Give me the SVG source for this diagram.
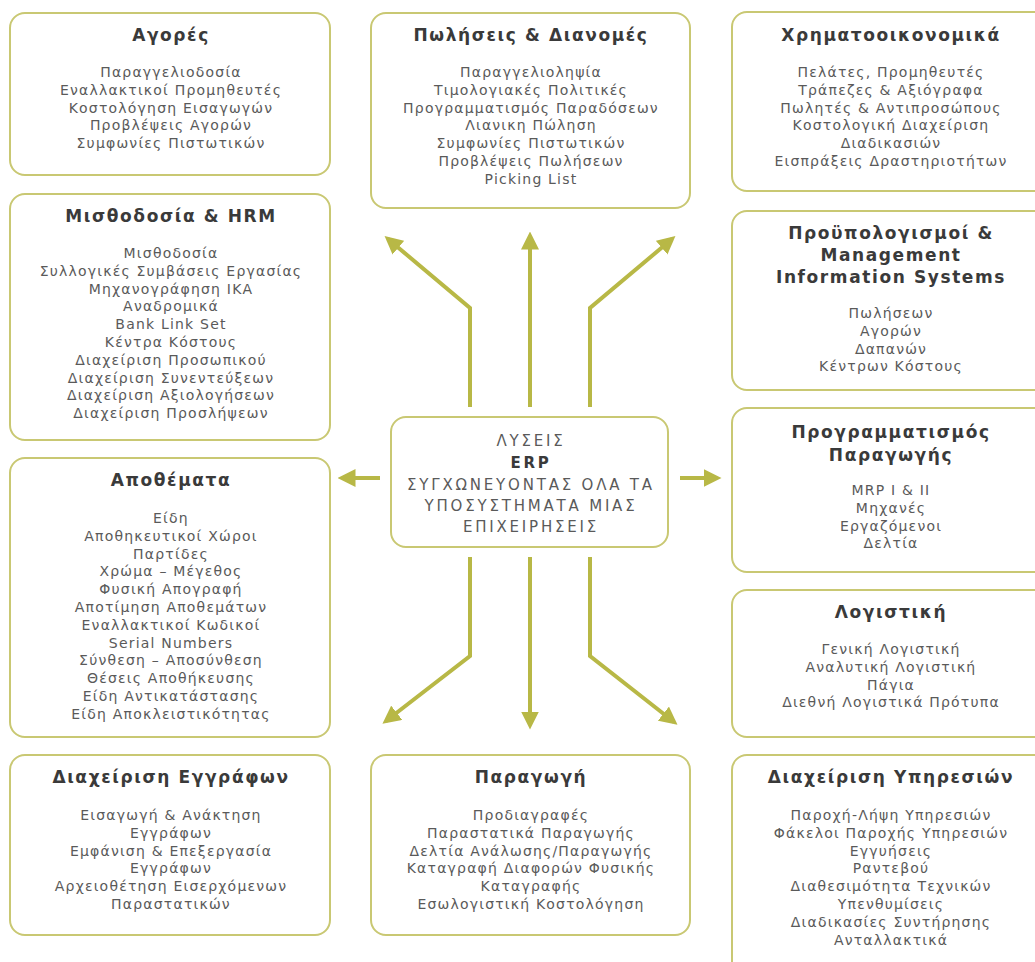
<svg xmlns="http://www.w3.org/2000/svg" width="1035" height="962" viewBox="0 0 1035 962">
<style>
.box{fill:#fff;stroke:#c9c873;stroke-width:2}
.t{font-family:"DejaVu Sans",Verdana,sans-serif;font-size:17px;font-weight:bold;fill:#3a3a3a;text-anchor:middle;letter-spacing:1.6px}
.i{font-family:"DejaVu Sans",Verdana,sans-serif;font-size:14px;fill:#5a5a5a;text-anchor:middle;letter-spacing:1.2px}
.c{font-family:"DejaVu Sans",Verdana,sans-serif;font-size:15px;fill:#5a5a5a;text-anchor:middle;letter-spacing:2.8px}
.cb{font-weight:bold;fill:#3a3a3a}
.a{fill:none;stroke:#b8b846;stroke-width:4}
</style>
<defs>
<marker id="ah" markerUnits="userSpaceOnUse" markerWidth="18" markerHeight="18" refX="12" refY="8" orient="auto" viewBox="0 0 16 16">
<path d="M0,0 L16,8 L0,16 z" fill="#b8b846"/>
</marker>
</defs>
<rect width="1035" height="962" fill="#fff"/>

<g id="connectors">
<path class="a" d="M470,407 V308 L388,239" marker-end="url(#ah)"/>
<path class="a" d="M530,407 V236" marker-end="url(#ah)"/>
<path class="a" d="M590,407 V308 L672,239" marker-end="url(#ah)"/>
<path class="a" d="M470,557 V656 L386,721" marker-end="url(#ah)"/>
<path class="a" d="M530,557 V725" marker-end="url(#ah)"/>
<path class="a" d="M590,557 V656 L674,722" marker-end="url(#ah)"/>
<path class="a" d="M380,478 H342" marker-end="url(#ah)"/>
<path class="a" d="M680,478 H717" marker-end="url(#ah)"/>
</g>

<g id="n-agores">
<rect class="box" x="10" y="13" width="320" height="162" rx="15"/>
<text class="t" x="171" y="41">Αγορές</text>
<text class="i" x="171" y="77">Παραγγελιοδοσία<tspan x="171" dy="17.8">Εναλλακτικοί Προμηθευτές</tspan><tspan x="171" dy="17.8">Κοστολόγηση Εισαγωγών</tspan><tspan x="171" dy="17.8">Προβλέψεις Αγορών</tspan><tspan x="171" dy="17.8">Συμφωνίες Πιστωτικών</tspan></text>
</g>

<g id="n-poliseis">
<rect class="box" x="371" y="13" width="319" height="195" rx="15"/>
<text class="t" x="531" y="41">Πωλήσεις &amp; Διανομές</text>
<text class="i" x="531" y="77">Παραγγελιοληψία<tspan x="531" dy="17.8">Τιμολογιακές Πολιτικές</tspan><tspan x="531" dy="17.8">Προγραμματισμός Παραδόσεων</tspan><tspan x="531" dy="17.8">Λιανικη Πώληση</tspan><tspan x="531" dy="17.8">Συμφωνίες Πιστωτικών</tspan><tspan x="531" dy="17.8">Προβλέψεις Πωλήσεων</tspan><tspan x="531" dy="17.8">Picking List</tspan></text>
</g>

<g id="n-xrimatooikonomika">
<rect class="box" x="732" y="12" width="330" height="179" rx="15"/>
<text class="t" x="891" y="41">Χρηματοοικονομικά</text>
<text class="i" x="891" y="77">Πελάτες, Προμηθευτές<tspan x="891" dy="17.8">Τράπεζες &amp; Αξιόγραφα</tspan><tspan x="891" dy="17.8">Πωλητές &amp; Αντιπροσώπους</tspan><tspan x="891" dy="17.8">Κοστολογική Διαχείριση</tspan><tspan x="891" dy="17.8">Διαδικασιών</tspan><tspan x="891" dy="17.8">Εισπράξεις Δραστηριοτήτων</tspan></text>
</g>

<g id="n-misthodosia">
<rect class="box" x="10" y="194" width="320" height="246" rx="15"/>
<text class="t" x="171" y="222">Μισθοδοσία &amp; HRM</text>
<text class="i" x="171" y="258">Μισθοδοσία<tspan x="171" dy="17.8">Συλλογικές Συμβάσεις Εργασίας</tspan><tspan x="171" dy="17.8">Μηχανογράφηση ΙΚΑ</tspan><tspan x="171" dy="17.8">Αναδρομικά</tspan><tspan x="171" dy="17.8">Bank Link Set</tspan><tspan x="171" dy="17.8">Κέντρα Κόστους</tspan><tspan x="171" dy="17.8">Διαχείριση Προσωπικού</tspan><tspan x="171" dy="17.8">Διαχείριση Συνεντεύξεων</tspan><tspan x="171" dy="17.8">Διαχείριση Αξιολογήσεων</tspan><tspan x="171" dy="17.8">Διαχείριση Προσλήψεων</tspan></text>
</g>

<g id="n-proypologismoi">
<rect class="box" x="732" y="211" width="330" height="179" rx="15"/>
<text class="t" x="891" y="239">Προϋπολογισμοί &amp;<tspan x="891" dy="22">Management</tspan><tspan x="891" dy="22">Information Systems</tspan></text>
<text class="i" x="891" y="318">Πωλήσεων<tspan x="891" dy="17.8">Αγορών</tspan><tspan x="891" dy="17.8">Δαπανών</tspan><tspan x="891" dy="17.8">Κέντρων Κόστους</tspan></text>
</g>

<g id="n-center">
<rect class="box" x="391" y="417" width="277" height="130" rx="15"/>
<text class="c" x="531" y="446">ΛΥΣΕΙΣ<tspan x="531" dy="22" class="cb">ERP</tspan><tspan x="531" dy="22">ΣΥΓΧΩΝΕΥΟΝΤΑΣ ΟΛΑ ΤΑ</tspan><tspan x="531" dy="21">ΥΠΟΣΥΣΤΗΜΑΤΑ ΜΙΑΣ</tspan><tspan x="531" dy="21">ΕΠΙΧΕΙΡΗΣΕΙΣ</tspan></text>
</g>

<g id="n-apothemata">
<rect class="box" x="10" y="458" width="320" height="279" rx="15"/>
<text class="t" x="171" y="486">Αποθέματα</text>
<text class="i" x="171" y="523">Είδη<tspan x="171" dy="17.8">Αποθηκευτικοί Χώροι</tspan><tspan x="171" dy="17.8">Παρτίδες</tspan><tspan x="171" dy="17.8">Χρώμα – Μέγεθος</tspan><tspan x="171" dy="17.8">Φυσική Απογραφή</tspan><tspan x="171" dy="17.8">Αποτίμηση Αποθεμάτων</tspan><tspan x="171" dy="17.8">Εναλλακτικοί Κωδικοί</tspan><tspan x="171" dy="17.8">Serial Numbers</tspan><tspan x="171" dy="17.8">Σύνθεση – Αποσύνθεση</tspan><tspan x="171" dy="17.8">Θέσεις Αποθήκευσης</tspan><tspan x="171" dy="17.8">Είδη Αντικατάστασης</tspan><tspan x="171" dy="17.8">Είδη Αποκλειστικότητας</tspan></text>
</g>

<g id="n-programmatismos">
<rect class="box" x="732" y="408" width="330" height="164" rx="15"/>
<text class="t" x="891" y="438">Προγραμματισμός<tspan x="891" dy="23">Παραγωγής</tspan></text>
<text class="i" x="891" y="495">MRP I &amp; II<tspan x="891" dy="17.8">Μηχανές</tspan><tspan x="891" dy="17.8">Εργαζόμενοι</tspan><tspan x="891" dy="17.8">Δελτία</tspan></text>
</g>

<g id="n-logistiki">
<rect class="box" x="732" y="590" width="330" height="147" rx="15"/>
<text class="t" x="891" y="618">Λογιστική</text>
<text class="i" x="891" y="654">Γενική Λογιστική<tspan x="891" dy="17.8">Αναλυτική Λογιστική</tspan><tspan x="891" dy="17.8">Πάγια</tspan><tspan x="891" dy="17.8">Διεθνή Λογιστικά Πρότυπα</tspan></text>
</g>

<g id="n-eggrafa">
<rect class="box" x="10" y="755" width="320" height="180" rx="15"/>
<text class="t" x="171" y="783">Διαχείριση Εγγράφων</text>
<text class="i" x="171" y="820">Εισαγωγή &amp; Ανάκτηση<tspan x="171" dy="17.8">Εγγράφων</tspan><tspan x="171" dy="17.8">Εμφάνιση &amp; Επεξεργασία</tspan><tspan x="171" dy="17.8">Εγγράφων</tspan><tspan x="171" dy="17.8">Αρχειοθέτηση Εισερχόμενων</tspan><tspan x="171" dy="17.8">Παραστατικών</tspan></text>
</g>

<g id="n-paragogi">
<rect class="box" x="371" y="755" width="319" height="180" rx="15"/>
<text class="t" x="531" y="783">Παραγωγή</text>
<text class="i" x="531" y="820">Προδιαγραφές<tspan x="531" dy="17.8">Παραστατικά Παραγωγής</tspan><tspan x="531" dy="17.8">Δελτία Ανάλωσης/Παραγωγής</tspan><tspan x="531" dy="17.8">Καταγραφή Διαφορών Φυσικής</tspan><tspan x="531" dy="17.8">Καταγραφής</tspan><tspan x="531" dy="17.8">Εσωλογιστική Κοστολόγηση</tspan></text>
</g>

<g id="n-ypiresies">
<rect class="box" x="732" y="755" width="330" height="225" rx="15"/>
<text class="t" x="891" y="783">Διαχείριση Υπηρεσιών</text>
<text class="i" x="891" y="820">Παροχή-Λήψη Υπηρεσιών<tspan x="891" dy="17.8">Φάκελοι Παροχής Υπηρεσιών</tspan><tspan x="891" dy="17.8">Εγγυήσεις</tspan><tspan x="891" dy="17.8">Ραντεβού</tspan><tspan x="891" dy="17.8">Διαθεσιμότητα Τεχνικών</tspan><tspan x="891" dy="17.8">Υπενθυμίσεις</tspan><tspan x="891" dy="17.8">Διαδικασίες Συντήρησης</tspan><tspan x="891" dy="17.8">Ανταλλακτικά</tspan></text>
</g>
</svg>
